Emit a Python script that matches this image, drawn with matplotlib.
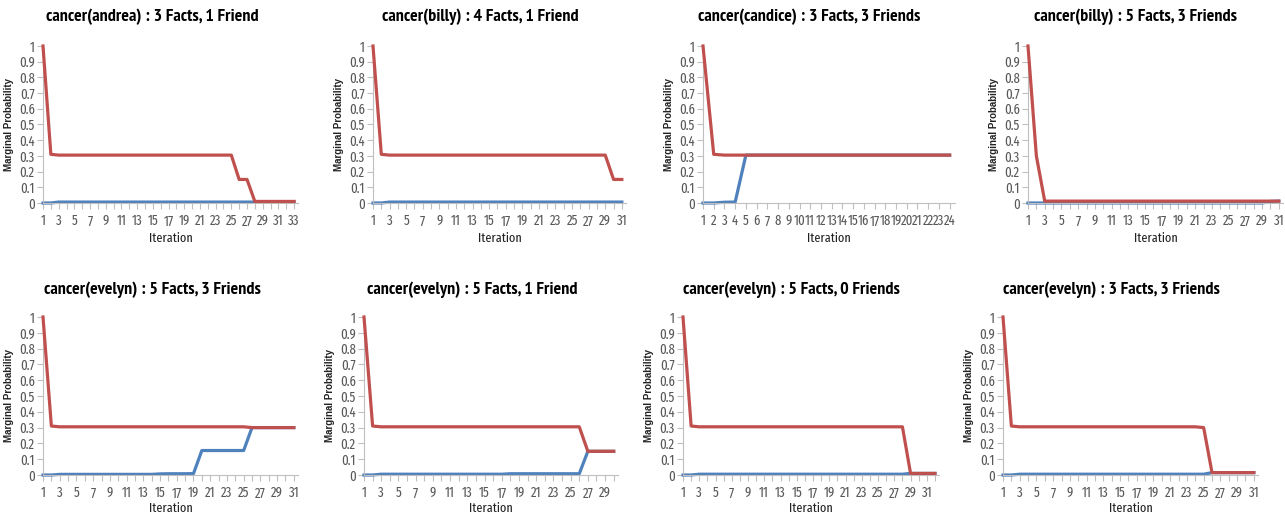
import matplotlib.pyplot as plt
import numpy as np

# Data (red = upper series, blue = lower series)
titles = ['cancer(andrea) : 3 Facts, 1 Friend', 'cancer(billy) : 4 Facts, 1 Friend',
          'cancer(candice) : 3 Facts, 3 Friends', 'cancer(billy) : 5 Facts, 3 Friends',
          'cancer(evelyn) : 5 Facts, 3 Friends', 'cancer(evelyn) : 5 Facts, 1 Friend',
          'cancer(evelyn) : 5 Facts, 0 Friends', 'cancer(evelyn) : 3 Facts, 3 Friends']

andrea_red = [1, 0.31, 0.305, 0.305, 0.305, 0.305, 0.305, 0.305, 0.305, 0.305,
              0.305, 0.305, 0.305, 0.305, 0.305, 0.305, 0.305, 0.305, 0.305, 0.305,
              0.305, 0.305, 0.305, 0.305, 0.305, 0.15, 0.15, 0.01, 0.01, 0.01,
              0.01, 0.01, 0.01]
andrea_blue = [0, 0, 0.006, 0.006, 0.006, 0.006, 0.006, 0.006, 0.006, 0.006,
               0.006, 0.006, 0.006, 0.006, 0.006, 0.006, 0.006, 0.006, 0.006, 0.006,
               0.006, 0.006, 0.006, 0.006, 0.006, 0.006, 0.006, 0.006, 0.006, 0.006,
               0.006, 0.006, 0.006]

billy1_red = [1, 0.31, 0.305, 0.305, 0.305, 0.305, 0.305, 0.305, 0.305, 0.305,
              0.305, 0.305, 0.305, 0.305, 0.305, 0.305, 0.305, 0.305, 0.305, 0.305,
              0.305, 0.305, 0.305, 0.305, 0.305, 0.305, 0.305, 0.305, 0.305, 0.15,
              0.15]
billy1_blue = [0, 0, 0.006, 0.006, 0.006, 0.006, 0.006, 0.006, 0.006, 0.006,
               0.006, 0.006, 0.006, 0.006, 0.006, 0.006, 0.006, 0.006, 0.006, 0.006,
               0.006, 0.006, 0.006, 0.006, 0.006, 0.006, 0.006, 0.006, 0.006, 0.006,
               0.006]

candice_red = [1, 0.31, 0.305, 0.305, 0.305, 0.305, 0.305, 0.305, 0.305, 0.305,
               0.305, 0.305, 0.305, 0.305, 0.305, 0.305, 0.305, 0.305, 0.305, 0.305,
               0.305, 0.305, 0.305, 0.305]
candice_blue = [0, 0, 0.005, 0.006, 0.305, 0.305, 0.305, 0.305, 0.305, 0.305,
                0.305, 0.305, 0.305, 0.305, 0.305, 0.305, 0.305, 0.305, 0.305, 0.305,
                0.305, 0.305, 0.305, 0.305]

billy2_red = [1, 0.3, 0.012, 0.012, 0.012, 0.012, 0.012, 0.012, 0.012, 0.012,
              0.012, 0.012, 0.012, 0.012, 0.012, 0.012, 0.012, 0.012, 0.012, 0.012,
              0.012, 0.012, 0.012, 0.012, 0.012, 0.012, 0.012, 0.012, 0.012, 0.012,
              0.012]
billy2_blue = [0, 0, 0, 0, 0, 0, 0, 0, 0, 0,
               0, 0, 0, 0, 0, 0, 0, 0, 0, 0,
               0, 0, 0, 0, 0, 0, 0, 0, 0, 0.01,
               0.012]

evelyn1_red = [1, 0.31, 0.305, 0.305, 0.305, 0.305, 0.305, 0.305, 0.305, 0.305,
               0.305, 0.305, 0.305, 0.305, 0.305, 0.305, 0.305, 0.305, 0.305, 0.305,
               0.305, 0.305, 0.305, 0.305, 0.305, 0.30, 0.30, 0.30, 0.30, 0.30,
               0.30]
evelyn1_blue = [0, 0, 0.004, 0.004, 0.004, 0.004, 0.004, 0.004, 0.004, 0.004,
                0.004, 0.004, 0.004, 0.004, 0.007, 0.008, 0.008, 0.008, 0.009, 0.155,
                0.155, 0.155, 0.155, 0.155, 0.155, 0.30, 0.30, 0.30, 0.30, 0.30,
                0.30]

evelyn2_red = [1, 0.31, 0.305, 0.305, 0.305, 0.305, 0.305, 0.305, 0.305, 0.305,
               0.305, 0.305, 0.305, 0.305, 0.305, 0.305, 0.305, 0.305, 0.305, 0.305,
               0.305, 0.305, 0.305, 0.305, 0.305, 0.305, 0.15, 0.15, 0.15, 0.15]
evelyn2_blue = [0, 0, 0.005, 0.005, 0.005, 0.005, 0.005, 0.005, 0.005, 0.005,
                0.005, 0.005, 0.005, 0.005, 0.005, 0.005, 0.005, 0.008, 0.008, 0.008,
                0.008, 0.008, 0.008, 0.008, 0.008, 0.008, 0.15, 0.15, 0.15, 0.15]

evelyn3_red = [1, 0.31, 0.305, 0.305, 0.305, 0.305, 0.305, 0.305, 0.305, 0.305,
               0.305, 0.305, 0.305, 0.305, 0.305, 0.305, 0.305, 0.305, 0.305, 0.305,
               0.305, 0.305, 0.305, 0.305, 0.305, 0.305, 0.305, 0.305, 0.01, 0.01,
               0.01, 0.01]
evelyn3_blue = [0, 0, 0.005, 0.005, 0.005, 0.005, 0.005, 0.005, 0.005, 0.005,
                0.005, 0.005, 0.005, 0.005, 0.005, 0.005, 0.005, 0.005, 0.005, 0.005,
                0.005, 0.005, 0.005, 0.005, 0.005, 0.005, 0.005, 0.005, 0.01, 0.01,
                0.01, 0.01]

evelyn4_red = [1, 0.31, 0.305, 0.305, 0.305, 0.305, 0.305, 0.305, 0.305, 0.305,
               0.305, 0.305, 0.305, 0.305, 0.305, 0.305, 0.305, 0.305, 0.305, 0.305,
               0.305, 0.305, 0.305, 0.305, 0.30, 0.015, 0.015, 0.015, 0.015, 0.015,
               0.015]
evelyn4_blue = [0, 0, 0.005, 0.005, 0.005, 0.005, 0.005, 0.005, 0.005, 0.005,
                0.005, 0.005, 0.005, 0.005, 0.005, 0.005, 0.005, 0.005, 0.005, 0.005,
                0.005, 0.005, 0.005, 0.005, 0.005, 0.015, 0.015, 0.015, 0.015, 0.015,
                0.015]

red_series = [andrea_red, billy1_red, candice_red, billy2_red,
              evelyn1_red, evelyn2_red, evelyn3_red, evelyn4_red]
blue_series = [andrea_blue, billy1_blue, candice_blue, billy2_blue,
               evelyn1_blue, evelyn2_blue, evelyn3_blue, evelyn4_blue]
label_every = [2, 2, 1, 2, 2, 2, 2, 2]
y_ticks = [0, 0.1, 0.2, 0.3, 0.4, 0.5, 0.6, 0.7, 0.8, 0.9, 1]
y_tick_labels = ['0', '0.1', '0.2', '0.3', '0.4', '0.5', '0.6', '0.7', '0.8', '0.9', '1']

# Layout in pixels: (axis left, axis right) per panel, title centre x
W, H = 1285, 514
axis_x = [(43, 298), (373, 626), (703, 955), (1028, 1283),
          (43, 298), (364, 618), (683, 939), (1003, 1258)]
title_x = [152, 480, 809, 1136, 152, 472, 791, 1111]
rows = [(46, 203, 17, 35), (317, 475, 290, 33)]  # y top, y bottom, title y, xlabel offset

title_font = ['PT Sans Narrow', 'DejaVu Sans']
tick_font = ['Fira Sans Extra Condensed', 'PT Sans Narrow', 'DejaVu Sans']
grey = '#595959'
spine = '#BFBFBF'
red = '#C0504D'
blue = '#4F81BD'

fig = plt.figure(figsize=(W / 100, H / 100), dpi=100)

for i in range(8):
    top, bottom, ty, xl = rows[i // 4]
    x0, x1 = axis_x[i]
    ax = fig.add_axes([x0 / W, 1 - bottom / H, (x1 - x0) / W, (bottom - top) / H])
    r = red_series[i]
    b = blue_series[i]
    n = len(r)
    x = np.arange(1, n + 1)
    ax.plot(x, b, color=blue, lw=2.3, clip_on=False, zorder=2)
    ax.plot(x, r, color=red, lw=2.3, clip_on=False, zorder=3)

    ax.set_xlim(1, n + 0.5)
    ax.set_ylim(0, 1)
    ax.set_yticks(y_ticks)
    ax.set_yticklabels(y_tick_labels, family=tick_font, fontsize=10, color=grey)
    ax.set_xticks(x)
    ax.set_xticklabels([str(v) if (v - 1) % label_every[i] == 0 else '' for v in x],
                       family=tick_font, fontsize=10, color=grey)
    ax.tick_params(axis='both', direction='out', length=4, width=0.8, color=spine, pad=2)
    ax.tick_params(axis='x', pad=4)
    for s in ['top', 'right']:
        ax.spines[s].set_visible(False)
    for s in ['left', 'bottom']:
        ax.spines[s].set_color(spine)
        ax.spines[s].set_linewidth(0.8)

    ax.set_ylabel('Marginal Probability', fontsize=7, fontweight='bold',
                  family=['Liberation Sans', 'DejaVu Sans'], color='#222222')
    ax.yaxis.set_label_coords(-29 / (x1 - x0), 0.5)
    ax.set_xlabel('Iteration', family=tick_font, fontsize=9.5, color='#222222')
    ax.xaxis.label.set_va('center')
    ax.xaxis.set_label_coords(0.5, -xl / (bottom - top))

    fig.text(title_x[i] / W, 1 - ty / H, titles[i], ha='center', va='center',
             family=title_font, fontsize=13, fontweight='bold', color='black')

fig.savefig('out.png', dpi=100)
